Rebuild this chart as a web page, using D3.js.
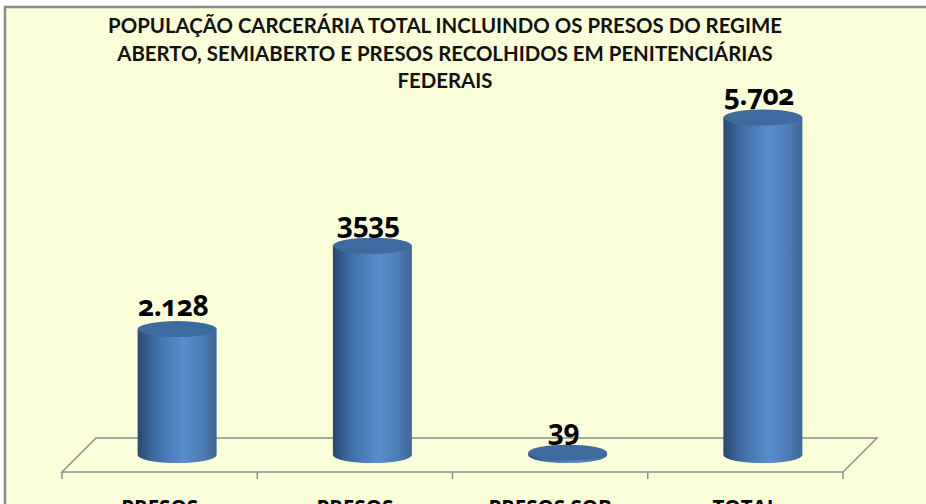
<!DOCTYPE html>
<html lang="pt">

<head>
    <meta charset="utf-8">
    <script src="https://d3js.org/d3.v7.min.js"></script>
    <style>
        html, body { margin: 0; background: white; overflow: hidden; }
        .title { font: bold 20.4px Lato, sans-serif; text-anchor: middle; fill: #111; }
        .value { font: bold 28px "Open Sans", sans-serif; text-anchor: middle; fill: #000; font-feature-settings: "onum"; letter-spacing: -0.5px; }
        .cat text { font: bold 20.5px "Open Sans", sans-serif; fill: #000; }
    </style>
</head>

<body>
    <div id="my_dataviz"></div>

    <script>
        // chart data
        const categories = ["PRESOS", "PRESOS ", "PRESOS SOB", "TOTAL"];
        const values = [2128, 3535, 39, 5702];
        const valueLabels = ["2.128", "3535", "39", "5.702"];
        const titleLines = [
            "POPULAÇÃO CARCERÁRIA TOTAL INCLUINDO OS PRESOS DO REGIME",
            "ABERTO, SEMIABERTO E PRESOS RECOLHIDOS EM PENITENCIÁRIAS",
            "FEDERAIS"
        ];

        const width = 926, height = 504;
        const depthX = 34, depthY = 34; // floor depth of the 3d box
        const rx = 39.5, ry = 8;

        const svg = d3.select("#my_dataviz")
            .append("svg")
            .attr("width", width)
            .attr("height", height)
            .style("display", "block");

        const x = d3.scaleBand().domain(categories).range([62, 843]);
        const y = d3.scaleLinear().domain([0, 5702]).range([455, 117.5]);
        const floorFront = 472;
        const floorBack = floorFront - depthY;

        // cylinder shading
        const defs = svg.append("defs");
        const grad = defs.append("linearGradient").attr("id", "cyl");
        grad.append("stop").attr("offset", "0%").attr("stop-color", "#27486f");
        grad.append("stop").attr("offset", "22%").attr("stop-color", "#3f6ea5");
        grad.append("stop").attr("offset", "58%").attr("stop-color", "#5a8dce");
        grad.append("stop").attr("offset", "82%").attr("stop-color", "#4c7cb5");
        grad.append("stop").attr("offset", "100%").attr("stop-color", "#3d6896");

        // background panel
        svg.append("rect")
            .attr("x", 5).attr("y", 7)
            .attr("width", width + 10).attr("height", height + 10)
            .attr("fill", "#faffd9")
            .attr("stroke", "#8c8c8c")
            .attr("stroke-width", 2.5);

        // floor of the chart
        const [x0, x1] = x.range();
        svg.append("path")
            .attr("d", `M${x0},${floorFront}L${x0 + depthX},${floorBack}H${x1 + depthX}L${x1},${floorFront}Z`)
            .attr("fill", "none")
            .attr("stroke", "#8f8f8f")
            .attr("stroke-width", 1.5);

        const edges = d3.range(categories.length + 1).map(i => x0 + i * x.step());
        svg.append("g").selectAll("line")
            .data(edges)
            .join("line")
            .attr("x1", d => d).attr("x2", d => d)
            .attr("y1", floorFront).attr("y2", floorFront + 7)
            .attr("stroke", "#8f8f8f")
            .attr("stroke-width", 1.5);

        // category labels, mostly below the window like the source
        const catAxis = svg.append("g")
            .attr("class", "cat")
            .attr("transform", `translate(0,${floorFront})`)
            .call(d3.axisBottom(x).tickSize(0).tickPadding(28));
        catAxis.select(".domain").remove();

        // cylinders
        const cx = d => x(d.cat) + x.bandwidth() / 2 + depthX / 2 + 0.5;
        const data = categories.map((c, i) => ({ cat: c, value: values[i], label: valueLabels[i] }));

        const bars = svg.append("g").selectAll("g").data(data).join("g");

        bars.append("path")
            .attr("d", d => {
                const top = y(d.value), base = y(0), c = cx(d);
                return `M${c - rx},${top}V${base}A${rx},${ry} 0 0 0 ${c + rx},${base}V${top}Z`;
            })
            .attr("fill", "url(#cyl)");

        bars.append("ellipse")
            .attr("cx", cx)
            .attr("cy", d => y(d.value))
            .attr("rx", rx)
            .attr("ry", ry)
            .attr("fill", "#3e6b9e");

        bars.append("text")
            .attr("class", "value")
            .attr("x", d => cx(d) - 4)
            .attr("y", d => y(d.value) - 13)
            .text(d => d.label);

        // title
        svg.append("g").selectAll("text")
            .data(titleLines)
            .join("text")
            .attr("class", "title")
            .attr("x", 445)
            .attr("y", (d, i) => 33 + i * 27.5)
            .text(d => d);
    </script>

</body>

</html>
